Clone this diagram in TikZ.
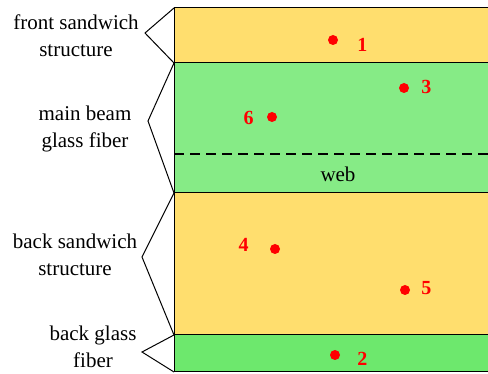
\documentclass[tikz,border=0pt]{standalone}
\usepackage{fontspec}
\setmainfont{Liberation Serif}
\newfontfamily\timesfont{Liberation Serif}
\usetikzlibrary{positioning}
\definecolor{sandwich}{RGB}{255,222,110}
\definecolor{beamgreen}{RGB}{134,235,134}
\definecolor{fibergreen}{RGB}{109,232,109}

\begin{document}
\begin{tikzpicture}
    [x=1pt,y=-1pt,every node/.style={font=\timesfont\fontsize{21}{27}\selectfont},
     dot/.style={circle,fill=red,inner sep=0pt,minimum size=10pt},
     num/.style={text=red,font=\timesfont\fontsize{20}{22}\selectfont\bfseries,inner sep=1pt},
     part/.style={align=center,inner sep=0pt},
     brace/.style={line width=1pt,line join=miter}]
    \useasboundingbox (0,0) rectangle (488,374);

    % layers
    \fill[sandwich] (174,8) rectangle (488,63);
    \fill[beamgreen] (174,63) rectangle (488,193);
    \fill[sandwich] (174,193) rectangle (488,335);
    \fill[fibergreen] (174,335) rectangle (488,372);
    \foreach \y in {8,63,193,335,372}
        \draw[line width=1pt] (174,\y) -- (488,\y);
    \draw[line width=1pt] (174,8) -- (174,372);
    \draw[line width=1.6pt,dash pattern=on 10pt off 6pt] (174,154) -- (488,154);
    \node (web) at (338,174) {web};

    % part names
    \node[part] (front) at (76,36) {front sandwich\\structure};
    \node[part] (beam) at (85,129) {main beam\\glass fiber};
    \node[part] (back) at (75,255) {back sandwich\\structure};
    \node[part] (fiber) at (93,347) {back glass\\fiber};

    \draw[brace] (174,8) -- (145,33) -- (174,63);
    \draw[brace] (174,63) -- (148,121) -- (174,193);
    \draw[brace] (174,193) -- (142,257) -- (174,335);
    \draw[brace] (174,335) -- (142,352) -- (174,372);

    % measuring points
    \node[dot] (p1) at (333,40) {};
    \node[dot] (p2) at (335,355) {};
    \node[dot] (p3) at (404,88) {};
    \node[dot] (p4) at (275,249) {};
    \node[dot] (p5) at (405,290) {};
    \node[dot] (p6) at (272,117) {};
    \node[num,right=18pt of p1,yshift=-5pt] (n1) {1};
    \node[num,right=16pt of p2,yshift=-4pt] (n2) {2};
    \node[num,right=11pt of p3,yshift=1pt] (n3) {3};
    \node[num,left=20pt of p4,yshift=4pt] (n4) {4};
    \node[num,right=10pt of p5,yshift=2pt] (n5) {5};
    \node[num,left=12pt of p6,yshift=-1pt] (n6) {6};
\end{tikzpicture}
\end{document}
